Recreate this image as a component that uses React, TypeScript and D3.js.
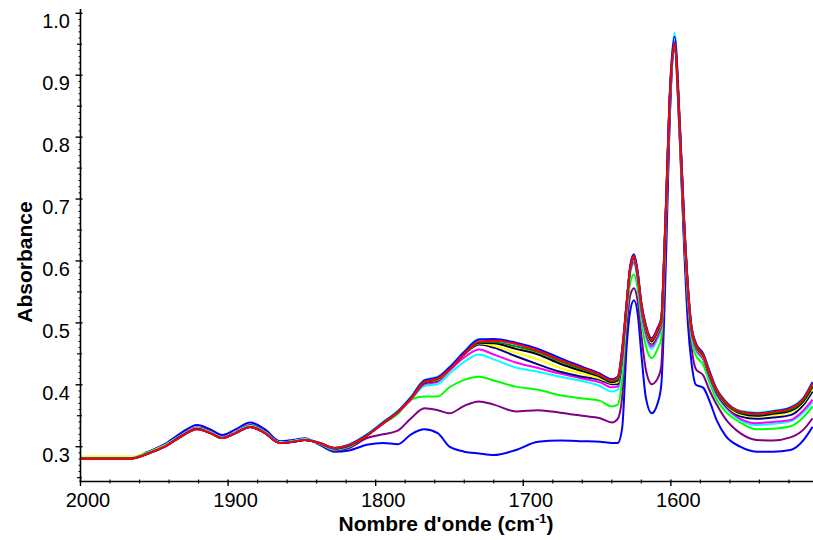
import React from "react";
import * as d3 from "d3";

const wavenumbers = [
  2000, 1966, 1955, 1943, 1932, 1921, 1912, 1904, 1895, 1885, 1875, 1865, 1856, 1848, 1838, 1828, 1818,
  1806, 1795, 1785, 1776, 1767, 1758, 1750, 1740, 1730, 1720, 1705, 1690, 1675, 1660, 1648, 1640,
  1636, 1633, 1630, 1627.5, 1625, 1622.5, 1620, 1617, 1613, 1609, 1606.5, 1604.5, 1603, 1601, 1597.5,
  1594, 1591, 1588.5, 1586, 1583, 1578, 1574, 1569, 1563, 1553, 1542, 1531, 1519, 1510, 1504,
];

const blueLow = [
  0.2815, 0.2815, 0.291, 0.304, 0.322, 0.335, 0.328, 0.319, 0.328, 0.339, 0.328, 0.309, 0.311, 0.3136, 0.303, 0.292, 0.294,
  0.303, 0.306, 0.304, 0.32, 0.328, 0.322, 0.3, 0.292, 0.289, 0.2866, 0.2946, 0.308, 0.31, 0.309, 0.308, 0.306,
  0.306, 0.33, 0.46, 0.52, 0.5365, 0.515, 0.45, 0.38, 0.354, 0.37, 0.4, 0.51, 0.63, 0.81, 0.945,
  0.8, 0.62, 0.5, 0.435, 0.4, 0.395, 0.375, 0.343, 0.318, 0.3, 0.292, 0.292, 0.2946, 0.311, 0.332,
];
const purple = [
  0.281, 0.281, 0.289, 0.302, 0.319, 0.331, 0.325, 0.316, 0.324, 0.335, 0.325, 0.307, 0.309, 0.312, 0.304, 0.294, 0.298,
  0.314, 0.32, 0.326, 0.346, 0.362, 0.359, 0.354, 0.366, 0.373, 0.368, 0.357, 0.359, 0.355, 0.35, 0.346, 0.339,
  0.345, 0.38, 0.49, 0.545, 0.556, 0.535, 0.48, 0.425, 0.401, 0.41, 0.43, 0.55, 0.66, 0.82, 0.94,
  0.8, 0.635, 0.525, 0.46, 0.425, 0.415, 0.392, 0.368, 0.345, 0.322, 0.311, 0.31, 0.315, 0.328, 0.346,
];
const lime = [
  0.2825, 0.2825, 0.29, 0.302, 0.318, 0.33, 0.324, 0.315, 0.323, 0.334, 0.324, 0.307, 0.309, 0.312, 0.305, 0.295, 0.3,
  0.319, 0.337, 0.353, 0.376, 0.381, 0.381, 0.396, 0.408, 0.413, 0.407, 0.397, 0.392, 0.383, 0.378, 0.374, 0.365,
  0.368, 0.41, 0.51, 0.565, 0.578, 0.555, 0.505, 0.463, 0.443, 0.458, 0.475, 0.585, 0.69, 0.84, 0.95,
  0.81, 0.648, 0.54, 0.475, 0.447, 0.432, 0.405, 0.376, 0.357, 0.339, 0.328, 0.329, 0.333, 0.348, 0.365,
];
const cyanLow = [
  0.282, 0.282, 0.289, 0.301, 0.318, 0.33, 0.323, 0.315, 0.323, 0.333, 0.323, 0.307, 0.308, 0.311, 0.305, 0.296, 0.301,
  0.32, 0.338, 0.356, 0.376, 0.398, 0.401, 0.418, 0.437, 0.449, 0.441, 0.428, 0.421, 0.413, 0.406, 0.398, 0.389,
  0.392, 0.43, 0.52, 0.58, 0.595, 0.568, 0.515, 0.478, 0.458, 0.474, 0.49, 0.598, 0.7, 0.845, 0.955,
  0.815, 0.655, 0.548, 0.482, 0.455, 0.44, 0.412, 0.383, 0.363, 0.343, 0.335, 0.337, 0.341, 0.356, 0.372,
];
const magenta = [
  0.281, 0.281, 0.288, 0.3, 0.317, 0.329, 0.322, 0.314, 0.322, 0.332, 0.322, 0.306, 0.308, 0.311, 0.306, 0.297, 0.302,
  0.318, 0.337, 0.355, 0.376, 0.401, 0.405, 0.423, 0.444, 0.457, 0.449, 0.436, 0.427, 0.418, 0.41, 0.404, 0.396,
  0.397, 0.44, 0.525, 0.585, 0.598, 0.572, 0.52, 0.483, 0.462, 0.478, 0.495, 0.602, 0.702, 0.848, 0.948,
  0.815, 0.657, 0.55, 0.485, 0.458, 0.441, 0.414, 0.385, 0.365, 0.345, 0.338, 0.34, 0.343, 0.359, 0.376,
];
const navy = [
  0.282, 0.282, 0.289, 0.301, 0.317, 0.329, 0.323, 0.315, 0.323, 0.333, 0.323, 0.307, 0.309, 0.312, 0.306, 0.297, 0.302,
  0.318, 0.338, 0.356, 0.377, 0.403, 0.407, 0.425, 0.449, 0.465, 0.46, 0.446, 0.433, 0.421, 0.413, 0.408, 0.401,
  0.401, 0.445, 0.53, 0.587, 0.603, 0.576, 0.524, 0.488, 0.466, 0.483, 0.5, 0.606, 0.706, 0.85, 0.952,
  0.818, 0.66, 0.555, 0.488, 0.461, 0.443, 0.416, 0.387, 0.367, 0.349, 0.345, 0.347, 0.351, 0.368, 0.389,
];
const yellow = [
  0.284, 0.284, 0.29, 0.302, 0.318, 0.33, 0.323, 0.315, 0.323, 0.333, 0.323, 0.307, 0.309, 0.312, 0.306, 0.298, 0.303,
  0.318, 0.338, 0.356, 0.377, 0.404, 0.408, 0.426, 0.45, 0.467, 0.463, 0.452, 0.441, 0.427, 0.418, 0.41, 0.403,
  0.404, 0.45, 0.53, 0.588, 0.605, 0.578, 0.526, 0.49, 0.468, 0.485, 0.502, 0.608, 0.708, 0.85, 0.953,
  0.82, 0.66, 0.556, 0.489, 0.462, 0.444, 0.418, 0.389, 0.369, 0.352, 0.349, 0.351, 0.356, 0.372, 0.395,
];
const black = [
  0.281, 0.281, 0.288, 0.3, 0.316, 0.328, 0.322, 0.314, 0.322, 0.332, 0.322, 0.306, 0.308, 0.311, 0.306, 0.298, 0.303,
  0.318, 0.338, 0.356, 0.378, 0.404, 0.409, 0.426, 0.45, 0.468, 0.467, 0.458, 0.449, 0.434, 0.422, 0.413, 0.404,
  0.407, 0.452, 0.528, 0.589, 0.606, 0.579, 0.528, 0.492, 0.47, 0.487, 0.504, 0.609, 0.709, 0.85, 0.952,
  0.82, 0.661, 0.558, 0.49, 0.463, 0.446, 0.419, 0.39, 0.37, 0.354, 0.35, 0.353, 0.358, 0.374, 0.397,
];
const green = [
  0.2815, 0.2815, 0.289, 0.301, 0.317, 0.329, 0.322, 0.314, 0.322, 0.332, 0.322, 0.306, 0.308, 0.311, 0.306, 0.298, 0.303,
  0.318, 0.338, 0.356, 0.378, 0.405, 0.409, 0.426, 0.451, 0.469, 0.469, 0.462, 0.453, 0.438, 0.425, 0.415, 0.406,
  0.409, 0.454, 0.529, 0.59, 0.607, 0.58, 0.529, 0.494, 0.472, 0.489, 0.505, 0.61, 0.71, 0.85, 0.953,
  0.82, 0.662, 0.559, 0.491, 0.464, 0.447, 0.42, 0.391, 0.371, 0.355, 0.352, 0.355, 0.36, 0.376, 0.399,
];
const cyanHigh = [
  0.2815, 0.2815, 0.288, 0.301, 0.317, 0.329, 0.323, 0.315, 0.323, 0.333, 0.323, 0.307, 0.309, 0.312, 0.306, 0.298, 0.304,
  0.32, 0.34, 0.358, 0.381, 0.408, 0.413, 0.429, 0.454, 0.474, 0.472, 0.465, 0.456, 0.441, 0.428, 0.417, 0.408,
  0.413, 0.458, 0.532, 0.592, 0.61, 0.582, 0.532, 0.497, 0.475, 0.492, 0.508, 0.613, 0.714, 0.855, 0.968,
  0.83, 0.666, 0.562, 0.494, 0.467, 0.45, 0.424, 0.394, 0.374, 0.358, 0.355, 0.358, 0.364, 0.38, 0.405,
];
const blueHigh = [
  0.281, 0.281, 0.288, 0.3, 0.317, 0.329, 0.322, 0.314, 0.322, 0.332, 0.322, 0.306, 0.308, 0.311, 0.306, 0.298, 0.303,
  0.319, 0.339, 0.357, 0.38, 0.407, 0.412, 0.428, 0.453, 0.473, 0.474, 0.468, 0.458, 0.443, 0.429, 0.418, 0.409,
  0.413, 0.458, 0.533, 0.593, 0.611, 0.583, 0.533, 0.497, 0.475, 0.492, 0.508, 0.614, 0.715, 0.856, 0.962,
  0.826, 0.666, 0.562, 0.494, 0.467, 0.45, 0.423, 0.393, 0.373, 0.357, 0.354, 0.357, 0.363, 0.379, 0.404,
];
const red = [
  0.2805, 0.2805, 0.288, 0.3, 0.316, 0.328, 0.322, 0.314, 0.322, 0.332, 0.322, 0.306, 0.308, 0.311, 0.306, 0.298, 0.303,
  0.318, 0.338, 0.356, 0.378, 0.405, 0.41, 0.425, 0.45, 0.47, 0.471, 0.466, 0.455, 0.44, 0.427, 0.416, 0.407,
  0.412, 0.455, 0.53, 0.59, 0.608, 0.58, 0.53, 0.495, 0.473, 0.49, 0.506, 0.61, 0.71, 0.85, 0.953,
  0.82, 0.663, 0.56, 0.492, 0.465, 0.448, 0.421, 0.392, 0.372, 0.357, 0.353, 0.356, 0.362, 0.378, 0.402,
];

const seriesList = [
  { name: "s1", color: "#0000FF", values: blueLow },
  { name: "s2", color: "#800080", values: purple },
  { name: "s3", color: "#00FF00", values: lime },
  { name: "s4", color: "#00FFFF", values: cyanLow },
  { name: "s5", color: "#FF00FF", values: magenta },
  { name: "s6", color: "#000080", values: navy },
  { name: "s7", color: "#FFFF00", values: yellow },
  { name: "s8", color: "#000000", values: black },
  { name: "s9", color: "#008000", values: green },
  { name: "s10", color: "#00FFFF", values: cyanHigh },
  { name: "s11", color: "#0000FF", values: blueHigh },
  { name: "s12", color: "#FF0000", values: red },
];

const yTickValues = [0.3, 0.4, 0.5, 0.6, 0.7, 0.8, 0.9, 1.0];
const xTickValues = [2000, 1900, 1800, 1700, 1600];

const W = 813;
const H = 540;
const X0 = 80.5;
const Y_AXIS = 481.5;
const FONT = "'Liberation Sans', Arial, sans-serif";

export default function App() {
  const x = d3.scaleLinear().domain([2000, 1503.7]).range([X0, W]);
  const y = d3.scaleLinear().domain([0.3, 1.0]).range([446.7, 13.3]);

  const line = d3
    .line<[number, number]>()
    .x((d) => x(d[0]))
    .y((d) => y(d[1]))
    .curve(d3.curveMonotoneX);

  const yMinor = d3.range(25, 101, 5).map((v) => v / 100).filter((v) => Math.round(v * 100) % 10 !== 0);
  const yTiny = d3.range(25, 101, 1).map((v) => v / 100).filter((v) => Math.round(v * 100) % 5 !== 0);
  const xMinor = d3.range(1520, 2000, 20).filter((v) => v % 100 !== 0);

  return (
    <svg
      width={W}
      height={H}
      style={{ position: "absolute", left: 0, top: 0, background: "#fff" }}
      fontFamily={FONT}
    >
      <defs>
        <clipPath id="plot">
          <rect x={X0} y={0} width={W - X0} height={Y_AXIS} />
        </clipPath>
      </defs>
      <g clipPath="url(#plot)">
        {seriesList.map((s) => (
          <path
            key={s.name}
            d={line(wavenumbers.map((w, i) => [w, s.values[i]] as [number, number])) || ""}
            fill="none"
            stroke={s.color}
            strokeWidth={2}
          />
        ))}
      </g>
      {/* y axis */}
      <line x1={X0} x2={X0} y1={9} y2={Y_AXIS} stroke="#000" strokeWidth={1.6} />
      {yTickValues.map((v) => (
        <g key={"yt" + v}>
          <line x1={X0 - 5} x2={X0 + 2} y1={y(v)} y2={y(v)} stroke="#000" strokeWidth={1.4} />
          <text x={70} y={y(v) + 15} textAnchor="end" fontSize={20} fill="#000">
            {v.toFixed(1)}
          </text>
        </g>
      ))}
      {yMinor.map((v) => (
        <line key={"ym" + v} x1={X0 - 3.5} x2={X0 + 1.5} y1={y(v)} y2={y(v)} stroke="#000" strokeWidth={1.2} />
      ))}
      {yTiny.map((v) => (
        <line key={"yn" + v} x1={X0 - 2} x2={X0} y1={y(v)} y2={y(v)} stroke="#000" strokeWidth={1} />
      ))}
      {/* x axis */}
      <line x1={X0 - 1} x2={W} y1={Y_AXIS} y2={Y_AXIS} stroke="#000" strokeWidth={1.6} />
      {xTickValues.map((v) => (
        <g key={"xt" + v}>
          <line x1={x(v)} x2={x(v)} y1={Y_AXIS - 2} y2={Y_AXIS + 4.5} stroke="#000" strokeWidth={1.4} />
          <text x={x(v) + 7.5} y={507} textAnchor="middle" fontSize={20} fill="#000">
            {v}
          </text>
        </g>
      ))}
      {xMinor.map((v) => (
        <line key={"xm" + v} x1={x(v)} x2={x(v)} y1={Y_AXIS - 2} y2={Y_AXIS + 2} stroke="#000" strokeWidth={1.1} />
      ))}
      {/* titles */}
      <text x={446} y={531} textAnchor="middle" fontSize={21} fontWeight="bold" fill="#000">
        Nombre d'onde (cm
        <tspan fontSize={13} dy={-8}>-1</tspan>
        <tspan dy={8}>)</tspan>
      </text>
      <text
        transform="translate(31.5,262) rotate(-90)"
        textAnchor="middle"
        fontSize={21}
        fontWeight="bold"
        fill="#000"
      >
        Absorbance
      </text>
    </svg>
  );
}
